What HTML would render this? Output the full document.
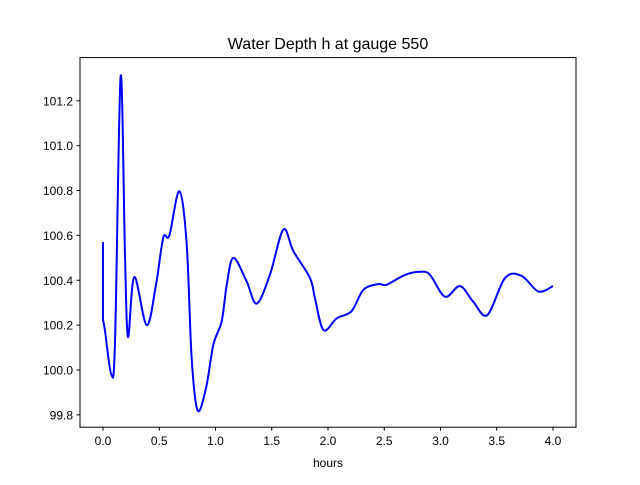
<!DOCTYPE html>
<html><head><meta charset="utf-8"><style>
body{margin:0;background:#fff}
svg{font-family:"Liberation Sans","DejaVu Sans",sans-serif}
</style></head><body>
<svg id="chart" width="640" height="480">
<rect width="640" height="480" fill="#fff"/>
<text x="328" y="49" text-anchor="middle" font-size="16">Water Depth h at gauge 550</text>
<g id="grid"></g>
<path id="line" fill="none" stroke="#0000ff" stroke-width="2" stroke-linejoin="round"/>
<rect x="80" y="57.6" width="496" height="369.6" fill="none" stroke="#000" stroke-width="1"/>
<text x="328" y="467" text-anchor="middle" font-size="12">hours</text>
</svg>
<script>
const xs=[0,0,0.018,0.074,0.107,0.157,0.196,0.222,0.278,0.388,0.471,0.536,0.59,0.679,0.744,0.788,0.841,0.916,0.981,1.055,1.10,1.159,1.277,1.366,1.484,1.603,1.692,1.84,1.884,1.96,2.077,2.21,2.314,2.447,2.52,2.684,2.818,2.907,3.04,3.173,3.29,3.416,3.573,3.72,3.87,4.0];
const ys=[100.57,100.224,100.174,99.98,100.13,101.31,100.50,100.147,100.415,100.20,100.38,100.59,100.60,100.797,100.56,100.053,99.82,99.92,100.113,100.217,100.38,100.50,100.395,100.296,100.425,100.626,100.53,100.41,100.32,100.178,100.23,100.263,100.357,100.383,100.38,100.424,100.438,100.424,100.327,100.374,100.305,100.245,100.41,100.42,100.35,100.374];
const xTicks=[0,0.5,1,1.5,2,2.5,3,3.5,4];
const yTicks=[99.8,100.0,100.2,100.4,100.6,100.8,101.0,101.2];
const X=v=>103+v*112.5;
const Y=v=>370-(v-100)*224.3;
const NS="http://www.w3.org/2000/svg";
const g=document.getElementById('grid');
xTicks.forEach(t=>{
 const l=document.createElementNS(NS,'line');
 
 
 l.setAttribute('x1',X(t));l.setAttribute('x2',X(t));l.setAttribute('y1',427.2);l.setAttribute('y2',430.7);l.setAttribute('stroke','#000');
 g.appendChild(l);
 const tx=document.createElementNS(NS,'text');
 
 
 tx.setAttribute('x',X(t));tx.setAttribute('y',445);tx.setAttribute('text-anchor','middle');tx.setAttribute('font-size','12');
 tx.textContent=t.toFixed(1);g.appendChild(tx);
});
yTicks.forEach(t=>{
 const l=document.createElementNS(NS,'line');
 
 
 l.setAttribute('x1',76.5);l.setAttribute('x2',80);l.setAttribute('y1',Y(t));l.setAttribute('y2',Y(t));l.setAttribute('stroke','#000');
 g.appendChild(l);
 const tx=document.createElementNS(NS,'text');
 
 
 tx.setAttribute('x',73);tx.setAttribute('y',Y(t)+4.5);tx.setAttribute('text-anchor','end');tx.setAttribute('font-size','12');
 tx.textContent=t.toFixed(1);g.appendChild(tx);
});
const P=xs.map((x,i)=>[X(x),Y(ys[i])]);
let d='M'+P[0][0]+','+P[0][1]+' L'+P[1][0]+','+P[1][1];
for(let i=1;i<P.length-1;i++){
 const p0=P[Math.max(i-1,1)],p1=P[i],p2=P[i+1],p3=P[Math.min(i+2,P.length-1)];
 const c1=[p1[0]+(p2[0]-p0[0])/6,p1[1]+(p2[1]-p0[1])/6];
 const c2=[p2[0]-(p3[0]-p1[0])/6,p2[1]-(p3[1]-p1[1])/6];
 d+=` C${c1[0]},${c1[1]} ${c2[0]},${c2[1]} ${p2[0]},${p2[1]}`;
}
document.getElementById('line').setAttribute('d',d);
</script>
</body></html>
